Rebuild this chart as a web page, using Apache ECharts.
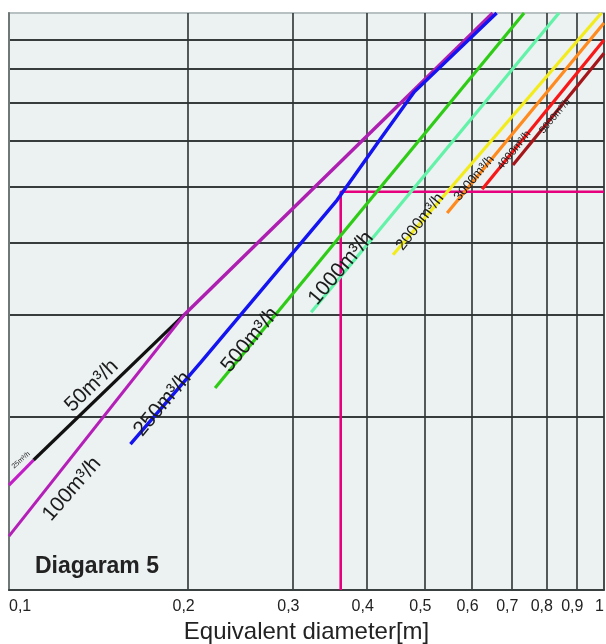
<!DOCTYPE html>
<html>
<head>
<meta charset="utf-8">
<script src="https://cdn.jsdelivr.net/npm/echarts@6/dist/echarts.min.js"></script>
<style>
  html, body { margin: 0; padding: 0; background: #ffffff; }
  #chart { width: 606px; height: 644px; }
</style>
</head>
<body>
<div id="chart"></div>
<script>
// Bottom axis: equivalent diameter (m), log scale
const diameterTicks = [0.1, 0.2, 0.3, 0.4, 0.5, 0.6, 0.7, 0.8, 0.9, 1];
const diameterTickLabels = ['0,1', '0,2', '0,3', '0,4', '0,5', '0,6', '0,7', '0,8', '0,9', '1'];
// Vertical grid levels, one log decade
const levelTicks = [1, 2, 3, 4, 5, 6, 7, 8, 9];

// Flow curves as [diameter, level] pairs
const flow25 = [[0.1, 1.52], [0.11, 1.68]];
const flow50 = [[0.11, 1.68], [0.197, 3.0]];
const flowLimit = [[0.197, 3.0], [0.65, 10]];
const flow100 = [[0.1, 1.24], [0.197, 3.0]];
const flow250 = [[0.16, 1.79], [0.21, 2.48], [0.356, 4.74], [0.42, 6.03], [0.48, 7.3], [0.66, 10]];
const flow500 = [[0.222, 2.24], [0.734, 10]];
const flow1000 = [[0.322, 3.03], [0.84, 10]];
const flow2000 = [[0.442, 3.81], [0.99, 10]];
const flow3000 = [[0.545, 4.5], [1, 9.61]];
const flow4000 = [[0.624, 4.95], [1, 8.98]];
const flow5000 = [[0.703, 5.45], [1, 8.52]];

// Worked reading example: d = 0.36 m
const readingPath = [[0.361, 1], [0.361, 4.9], [1, 4.9]];

const flowNames = ['25m³/h', '50m³/h', '100m³/h', '250m³/h', '500m³/h',
                   '1000m³/h', '2000m³/h', '3000m³/h', '4000m³/h', '5000m³/h'];

const curves = [
  { data: flow25,    color: '#c21ec8', width: 3.2 },
  { data: flow50,    color: '#111111', width: 3.2 },
  { data: flowLimit, color: '#ad1fb0', width: 3.4 },
  { data: flow100,   color: '#b41fb8', width: 3.0 },
  { data: flow250,   color: '#1414f0', width: 3.4 },
  { data: flow500,   color: '#2fcc17', width: 3.2 },
  { data: flow1000,  color: '#62f2a8', width: 3.2 },
  { data: flow2000,  color: '#f3ec1c', width: 3.2 },
  { data: flow3000,  color: '#ff8a1e', width: 3.2 },
  { data: flow4000,  color: '#f81818', width: 3.2 },
  { data: flow5000,  color: '#a5161b', width: 3.2 }
];

// Label placement: anchored on the first point of a curve, nudged in pixels
const labelLayout = [
  { curve: flow25,   dx: 12, dy: -25, rot: 41, size: 7 },
  { curve: flow50,   dx: 58, dy: -74, rot: 44, size: 21 },
  { curve: flow100,  dx: 63, dy: -47, rot: 49, size: 21 },
  { curve: flow250,  dx: 32, dy: -40, rot: 50, size: 21 },
  { curve: flow500,  dx: 35, dy: -48, rot: 50, size: 21 },
  { curve: flow1000, dx: 30, dy: -44, rot: 50, size: 21 },
  { curve: flow2000, dx: 27, dy: -33, rot: 52, size: 16 },
  { curve: flow3000, dx: 27, dy: -35, rot: 50, size: 13 },
  { curve: flow4000, dx: 32, dy: -39, rot: 51, size: 11 },
  { curve: flow5000, dx: 42, dy: -49, rot: 50, size: 10 }
];

const FONT = "'Liberation Sans', Arial, Helvetica, sans-serif";

const chart = echarts.init(document.getElementById('chart'), null, { renderer: 'canvas' });

const series = curves.map(c => ({
  type: 'line',
  data: c.data,
  symbol: 'none',
  clip: true,
  silent: true,
  lineStyle: { color: c.color, width: c.width, cap: 'butt' },
  z: 3
}));

series.push({
  type: 'line',
  data: readingPath,
  symbol: 'none',
  clip: true,
  silent: true,
  lineStyle: { color: '#e6007e', width: 2.6 },
  z: 2
});

chart.setOption({
  animation: false,
  backgroundColor: '#ffffff',
  grid: {
    left: 9, right: 2, top: 13, bottom: 54,
    outerBoundsMode: 'none',
    containLabel: false,
    show: true,
    backgroundColor: '#ecf1f1',
    borderColor: '#b8c1c1',
    borderWidth: 2
  },
  xAxis: {
    type: 'log',
    logBase: 10,
    min: 0.1,
    max: 1,
    name: 'Equivalent diameter[m]',
    nameLocation: 'middle',
    nameGap: 27,
    nameTextStyle: { fontSize: 24, color: '#222222', fontFamily: FONT },
    axisLine: { show: true, lineStyle: { color: '#3a3f3f', width: 2 } },
    axisTick: { show: false, customValues: diameterTicks },
    axisLabel: {
      customValues: diameterTicks,
      formatter: v => {
        const i = diameterTicks.findIndex(t => Math.abs(t - v) < 1e-6);
        return i >= 0 ? diameterTickLabels[i] : '';
      },
      fontSize: 16,
      color: '#222222',
      fontFamily: FONT,
      margin: 9,
      padding: [0, 9, 0, 0],
      alignMinLabel: 'left'
    },
    splitLine: { show: true, lineStyle: { color: '#2e3333', width: 1.6 } }
  },
  yAxis: {
    type: 'log',
    logBase: 10,
    min: 1,
    max: 10,
    axisLine: { show: true, lineStyle: { color: '#6f7777', width: 2 } },
    axisTick: { show: false, customValues: levelTicks },
    axisLabel: { show: false, customValues: levelTicks },
    splitLine: { show: true, lineStyle: { color: '#373c3c', width: 2 } }
  },
  series: series
});

// Rotated flow labels placed along their curves
function placeLabels() {
  const texts = labelLayout.map((l, i) => {
    const p = chart.convertToPixel({ gridIndex: 0 }, l.curve[0]);
    return {
      type: 'text',
      x: p[0] + l.dx,
      y: p[1] + l.dy,
      rotation: l.rot * Math.PI / 180,
      z: 100,
      silent: true,
      style: {
        text: flowNames[i],
        fontSize: l.size,
        fontFamily: FONT,
        fill: '#1c1c1c',
        align: 'center',
        verticalAlign: 'middle'
      }
    };
  });
  texts.push({
    type: 'text',
    left: 35,
    top: 555,
    z: 100,
    silent: true,
    style: {
      text: 'Diagaram 5',
      fontSize: 23,
      fontWeight: 'bold',
      fontFamily: FONT,
      fill: '#222222'
    }
  });
  chart.setOption({ graphic: { elements: texts } });
}
placeLabels();
</script>
</body>
</html>
